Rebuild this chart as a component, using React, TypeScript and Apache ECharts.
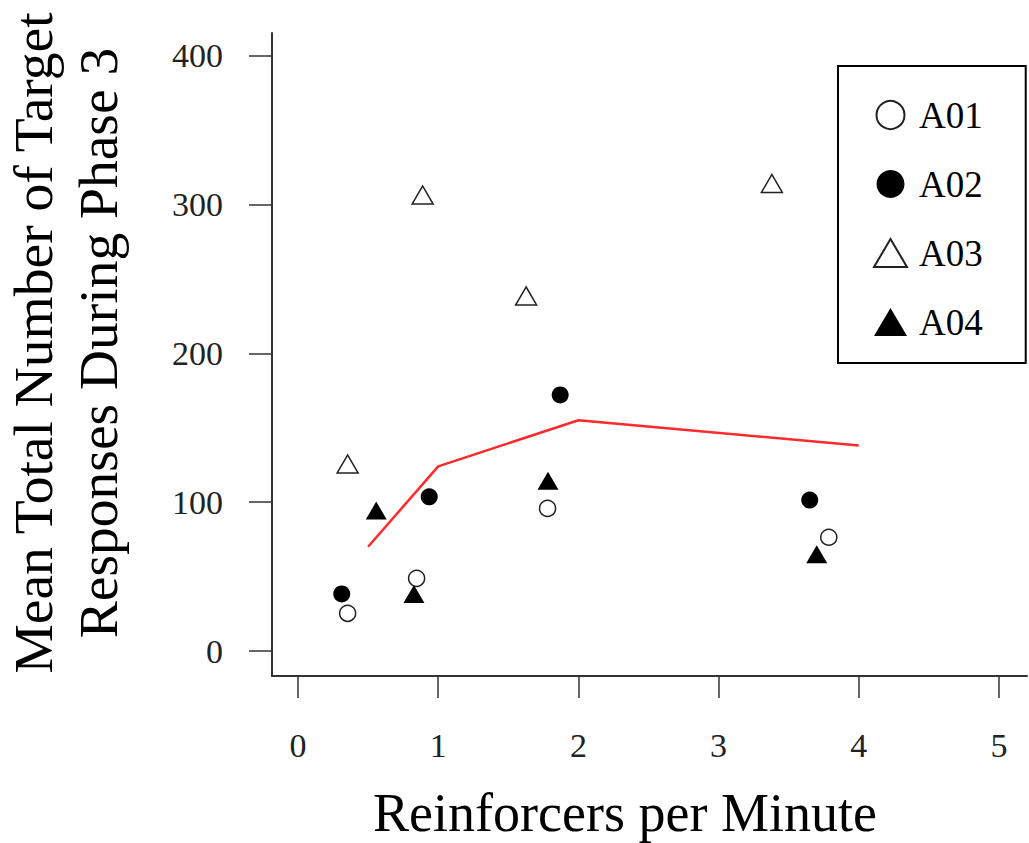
import React, { useEffect, useRef } from "react";
import * as echarts from "echarts";

const FONT = "Liberation Serif";

const seriesNames = ["A01", "A02", "A03", "A04"];
const a01: number[][] = [[0.354, 25.3], [0.846, 48.8], [1.78, 95.8], [3.786, 76.4]];
const a02: number[][] = [[0.312, 38.3], [0.936, 103.6], [1.87, 172], [3.65, 101.4]];
const a03: number[][] = [[0.354, 125.6], [0.889, 306.3], [1.627, 238.5], [3.38, 314]];
const a04: number[][] = [[0.558, 94.3], [0.827, 38.3], [1.783, 114.4], [3.7, 65]];
const fitLine: number[][] = [[0.5, 70], [1, 124], [2, 155], [4, 138]];

const xTitle = "Reinforcers per Minute";
const yTitle = "Mean Total Number of Target\nResponses During Phase 3";

// plot region geometry (pixels)
const PX_LEFT = 298; // x = 0
const PX_WIDTH = 701; // x = 0..5
const PY_TOP = 55.5; // y = 400
const PY_HEIGHT = 595.5; // y = 0..400
const AXIS_GAP_Y = 25; // gap from y=0 to x-axis line
const AXIS_GAP_X = 26; // gap from x=0 to y-axis line
const Y_BELOW = -(AXIS_GAP_Y * 400) / PY_HEIGHT;

export default function App() {
  const ref = useRef<HTMLDivElement>(null);
  useEffect(() => {
    if (!ref.current) return;
    const chart = echarts.init(ref.current, null, { renderer: "svg" });
    const openStyle = { color: "#fff", borderColor: "#222", borderWidth: 1.5, opacity: 1 };
    const fillStyle = { color: "#000", borderColor: "#000", borderWidth: 0, opacity: 1 };
    const hiddenAxis = {
      type: "value",
      show: false,
      axisLine: { show: false, onZero: false },
      axisTick: { show: false },
      axisLabel: { show: false },
      splitLine: { show: false },
    };
    chart.setOption({
      animation: false,
      backgroundColor: "#fff",
      grid: [
        // data + x ticks
        { left: PX_LEFT, top: PY_TOP, width: PX_WIDTH, height: PY_HEIGHT + AXIS_GAP_Y, containLabel: false },
        // y ticks
        { left: PX_LEFT - AXIS_GAP_X, top: PY_TOP, width: PX_WIDTH + AXIS_GAP_X, height: PY_HEIGHT, containLabel: false },
        // L-shaped axis lines
        { left: 272, top: 33, width: 755, height: 643, containLabel: false },
      ],
      xAxis: [
        {
          type: "value",
          gridIndex: 0,
          min: 0,
          max: 5,
          interval: 1,
          axisLine: { show: false, onZero: false },
          axisTick: { show: true, length: 22, lineStyle: { color: "#333", width: 1.5 } },
          axisLabel: { margin: 52, fontFamily: FONT, fontSize: 34, color: "#222" },
          splitLine: { show: false },
        },
        { ...hiddenAxis, gridIndex: 1, min: 0, max: 1 },
        {
          type: "value",
          gridIndex: 2,
          min: 0,
          max: 1,
          axisLine: { show: true, onZero: false, lineStyle: { color: "#333", width: 2 } },
          axisTick: { show: false },
          axisLabel: { show: false },
          splitLine: { show: false },
        },
      ],
      yAxis: [
        { ...hiddenAxis, gridIndex: 0, min: Y_BELOW, max: 400 },
        {
          type: "value",
          gridIndex: 1,
          min: 0,
          max: 400,
          interval: 100,
          axisLine: { show: false, onZero: false },
          axisTick: { show: true, length: 23, lineStyle: { color: "#333", width: 1.5 } },
          axisLabel: { margin: 49, fontFamily: FONT, fontSize: 34, color: "#222" },
          splitLine: { show: false },
        },
        {
          type: "value",
          gridIndex: 2,
          min: 0,
          max: 1,
          axisLine: { show: true, onZero: false, lineStyle: { color: "#333", width: 2 } },
          axisTick: { show: false },
          axisLabel: { show: false },
          splitLine: { show: false },
        },
      ],
      legend: {
        data: seriesNames,
        orient: "vertical",
        left: 838,
        top: 66,
        padding: [14.5, 43, 6.5, 35],
        itemGap: 0,
        itemWidth: 33,
        itemHeight: 28,
        borderColor: "#000",
        borderWidth: 2,
        borderRadius: 0,
        textStyle: {
          fontFamily: FONT,
          fontSize: 37,
          color: "#000",
          lineHeight: 69,
          padding: [0, 0, 0, 7],
        },
      },
      graphic: [
        {
          type: "text",
          x: 625,
          y: 813,
          style: {
            text: xTitle,
            font: `54px "${FONT}"`,
            fill: "#000",
            textAlign: "center",
            textVerticalAlign: "middle",
          },
        },
        {
          type: "text",
          x: 66,
          y: 343,
          rotation: Math.PI / 2,
          style: {
            text: yTitle,
            font: `55.5px "${FONT}"`,
            fill: "#000",
            textAlign: "center",
            textVerticalAlign: "middle",
            lineHeight: 65,
          },
        },
      ],
      series: [
        {
          name: "A01",
          type: "scatter",
          xAxisIndex: 0,
          yAxisIndex: 0,
          symbol: "circle",
          symbolSize: 16,
          itemStyle: openStyle,
          data: a01,
        },
        {
          name: "A02",
          type: "scatter",
          xAxisIndex: 0,
          yAxisIndex: 0,
          symbol: "circle",
          symbolSize: 17,
          itemStyle: fillStyle,
          data: a02,
        },
        {
          name: "A03",
          type: "scatter",
          xAxisIndex: 0,
          yAxisIndex: 0,
          symbol: "triangle",
          symbolSize: [21, 18],
          itemStyle: openStyle,
          data: a03,
        },
        {
          name: "A04",
          type: "scatter",
          xAxisIndex: 0,
          yAxisIndex: 0,
          symbol: "triangle",
          symbolSize: [21, 18],
          itemStyle: fillStyle,
          data: a04,
        },
        {
          name: "fit",
          type: "line",
          xAxisIndex: 0,
          yAxisIndex: 0,
          symbol: "none",
          lineStyle: { color: "#ff2a2a", width: 2.5 },
          data: fitLine,
          z: 1,
        },
      ],
    });
    return () => chart.dispose();
  }, []);
  return (
    <div
      ref={ref}
      style={{ position: "fixed", left: 0, top: 0, width: 1029, height: 843, background: "#fff" }}
    />
  );
}
